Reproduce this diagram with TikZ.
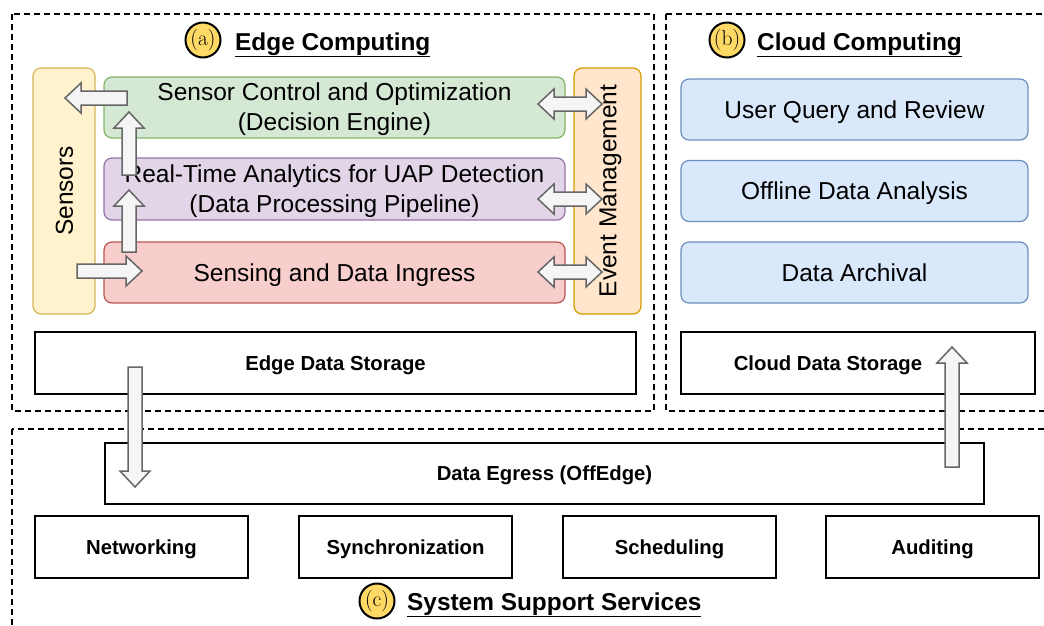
\documentclass[tikz,border=0pt]{standalone}
\usepackage{fontspec}
\setmainfont{Liberation Sans}
\newfontfamily\lmserif{Latin Modern Roman}
\definecolor{yfill}{HTML}{FFF2CC}\definecolor{ydraw}{HTML}{D6B656}
\definecolor{gfill}{HTML}{D5E8D4}\definecolor{gdraw}{HTML}{82B366}
\definecolor{pfill}{HTML}{E1D5E7}\definecolor{pdraw}{HTML}{9673A6}
\definecolor{rfill}{HTML}{F8CECC}\definecolor{rdraw}{HTML}{B85450}
\definecolor{ofill}{HTML}{FFE6CC}\definecolor{odraw}{HTML}{D79B00}
\definecolor{bfill}{HTML}{DAE8FC}\definecolor{bdraw}{HTML}{6C8EBF}
\definecolor{afill}{HTML}{F5F5F5}\definecolor{adraw}{HTML}{666666}
\definecolor{cfill}{HTML}{FFD966}
\newcommand\bodyfont{\fontsize{24.5}{30}\selectfont}
\newcommand\boldfont{\fontsize{20.3}{24}\selectfont\bfseries}
\tikzset{
  x=1pt,y=-1pt,
  frame/.style={draw,line width=1.5pt,dash pattern=on 6pt off 4pt},
  rbox/.style={rounded corners=8pt,line width=1.2pt,inner sep=0pt},
  lbl/.style={font=\bodyfont,inner sep=0pt,text height=17.5pt,text depth=0pt},
  lbl2/.style={font=\bodyfont,align=center,inner sep=0pt},
  sbox/.style={draw,line width=2pt,inner sep=0pt,align=center,font=\boldfont,minimum height=62pt,text height=14.6pt,text depth=0pt},
  blk/.style={fill=afill,draw=adraw,line width=1.5pt,line join=miter},
  pics/barrow/.style={code={\draw[blk] (0,-7) -- (#1-16,-7) -- (#1-16,-15) -- (#1,0) -- (#1-16,15) -- (#1-16,7) -- (0,7) -- cycle;}},
  pics/darrow/.style={code={\draw[blk] (0,0) -- (16,-15) -- (16,-7) -- (#1-16,-7) -- (#1-16,-15) -- (#1,0) -- (#1-16,15) -- (#1-16,7) -- (16,7) -- (16,15) -- cycle;}},
  circ/.style={circle,draw,line width=2pt,fill=cfill,minimum size=35pt,inner sep=0pt,font=\lmserif\fontsize{21.5}{22}\selectfont},
  ttl/.style={anchor=base west,inner sep=0pt,font=\fontsize{24.4}{28}\selectfont\bfseries}
}
\begin{document}
\begin{tikzpicture}
\useasboundingbox (0,0) rectangle (1044,625);
% frames
\draw[frame] (12,14) rectangle (654,411);
\draw[frame] (666,14) rectangle (1052,411);
\draw[frame] (12,429) rectangle (1052,640);
% titles
\node[circ] (ca) at (203,40) {(a)};
\node[ttl] (ta) at (235,50) {\underline{Edge Computing}};
\node[circ] (cb) at (727,40) {(b)};
\node[ttl] (tb) at (757,50) {\underline{Cloud Computing}};
\node[circ] (cc) at (377,601) {(c)};
\node[ttl] (tc) at (407,610) {\underline{System Support Services}};
% edge nodes
\node[rbox,fill=yfill,draw=ydraw,minimum width=62pt,minimum height=246pt] (sen) at (64,191) {};
\node[rotate=90,lbl] (sent) at (sen.center) {Sensors};
\node[rbox,fill=gfill,draw=gdraw,minimum width=461pt,minimum height=61pt] (sco) at (334.5,107.5) {};
\node[lbl2] (scot) at ([yshift=-2pt]sco.center) {Sensor Control and Optimization\\(Decision Engine)};
\node[rbox,fill=pfill,draw=pdraw,minimum width=461pt,minimum height=62pt] (rta) at (334.5,189) {};
\node[lbl2] (rtat) at ([yshift=-2pt]rta.center) {Real-Time Analytics for UAP Detection\\(Data Processing Pipeline)};
\node[rbox,fill=rfill,draw=rdraw,minimum width=461pt,minimum height=61pt] (sdi) at (334.5,272.5) {};
\node[lbl] (sdit) at (sdi.center) {Sensing and Data Ingress};
\node[rbox,fill=ofill,draw=odraw,minimum width=67pt,minimum height=246pt] (evm) at (607.5,191) {};
\node[rotate=90,lbl] (evmt) at (evm.center) {Event Management};
\node[sbox,minimum width=601pt] (eds) at (335.5,363) {Edge Data Storage};
% cloud nodes
\node[rbox,fill=bfill,draw=bdraw,minimum width=347pt,minimum height=61pt] (uqr) at (854.5,109.5) {};
\node[lbl] (uqrt) at (uqr.center) {User Query and Review};
\node[rbox,fill=bfill,draw=bdraw,minimum width=347pt,minimum height=61pt] (oda) at (854.5,191) {};
\node[lbl] (odat) at (oda.center) {Offline Data Analysis};
\node[rbox,fill=bfill,draw=bdraw,minimum width=347pt,minimum height=61pt] (dar) at (854.5,272.5) {};
\node[lbl] (dart) at (dar.center) {Data Archival};
\node[sbox,minimum width=354pt] (cds) at (858,363) {\hspace*{-60pt}Cloud Data Storage};
% system nodes
\node[sbox,minimum width=879pt,minimum height=61pt] (deg) at (544.5,473.5) {Data Egress (OffEdge)};
\node[sbox,minimum width=213pt] (net) at (141.5,547) {Networking};
\node[sbox,minimum width=213pt] (syn) at (405.5,547) {Synchronization};
\node[sbox,minimum width=213pt] (sch) at (669.5,547) {Scheduling};
\node[sbox,minimum width=213pt] (aud) at (932.5,547) {Auditing};
% block arrows
\pic[rotate=180] at (127,98) {barrow=62};
\pic[rotate=90] at (129,175) {barrow=63};
\pic[rotate=90] at (129,252) {barrow=62};
\pic at (77,271) {barrow=65};
\pic at (538,104) {darrow=64};
\pic at (538,199) {darrow=64};
\pic at (538,272) {darrow=64};
\pic[rotate=270] at (135,367) {barrow=120};
\pic[rotate=90] at (952,467) {barrow=120};
\end{tikzpicture}
\end{document}
